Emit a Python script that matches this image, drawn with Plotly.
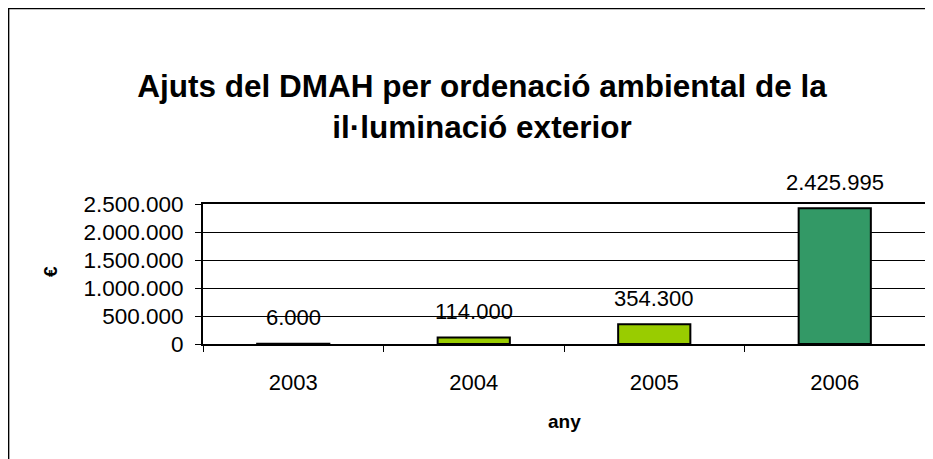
import plotly.graph_objects as go

years = ["2003", "2004", "2005", "2006"]
values = [6000, 114000, 354300, 2425995]
labels = ["6.000", "114.000", "354.300", "2.425.995"]
colors = ["#99CC00", "#99CC00", "#99CC00", "#339966"]
title_text = "Ajuts del DMAH per ordenació ambiental de la<br>il·luminació exterior"
x_title = "any"
y_title = "€"

W, H = 933, 459
OFF = 8  # page body margin offset (page px = figure px + OFF)
# plot area target in page pixels
PL, PR, PT, PB = 203, 925, 204, 344
ml, mt = PL - OFF, PT - OFF
mr, mb = W - (PR - OFF), H - (PB - OFF)
pw, ph = W - ml - mr, H - mt - mb

FONT = "Liberation Sans, Arial, sans-serif"


def px2x(p):  # page px -> paper x
    return (p - OFF - ml) / pw


def px2y(p):  # page px -> paper y
    return 1 - (p - OFF - mt) / ph


fig = go.Figure()
fig.add_trace(go.Bar(
    x=years, y=values, width=0.4,
    marker=dict(color=colors, line=dict(color="black", width=2)),
    hoverinfo="skip",
))

for i, (v, lab) in enumerate(zip(values, labels)):
    fig.add_annotation(x=i, y=v, xref="x", yref="y", text=lab, showarrow=False,
                       yanchor="middle", yshift=26,
                       font=dict(family=FONT, size=22, color="black"))

# axis titles
fig.add_annotation(x=0.5, y=px2y(421), xref="paper", yref="paper", text=x_title,
                   showarrow=False, xanchor="center", yanchor="middle",
                   font=dict(family=FONT, size=19, color="black", weight="bold"))
fig.add_annotation(x=px2x(50), y=px2y(272), xref="paper", yref="paper", text=y_title,
                   showarrow=False, textangle=-90, xanchor="center", yanchor="middle",
                   font=dict(family=FONT, size=19, color="black", weight="bold"))

# outer chart frame (partially cropped)
fig.add_shape(type="path", xref="paper", yref="paper",
              path=f"M {px2x(8.6)},{px2y(480)} L {px2x(8.6)},{px2y(8.6)} L {px2x(980)},{px2y(8.6)}",
              line=dict(color="black", width=1.5))

fig.update_layout(
    width=W, height=H,
    margin=dict(l=ml, r=mr, t=mt, b=mb, autoexpand=False),
    paper_bgcolor="white", plot_bgcolor="white",
    separators=",.",
    showlegend=False,
    title=dict(text=title_text, x=(482 - OFF) / W, xanchor="center", xref="container",
               y=1 - 89 / H, yanchor="top", yref="container",
               font=dict(family=FONT, size=31.5, color="black", weight="bold")),
    xaxis=dict(type="category", range=[-0.5, len(years) - 0.5],
               tickson="boundaries", ticks="outside", ticklen=6,
               tickcolor="black", tickwidth=1, showline=True, linecolor="black",
               linewidth=2, mirror=True, showgrid=False,
               ticklabelstandoff=18,
               tickfont=dict(family=FONT, size=22, color="black"),
               automargin=False),
    yaxis=dict(range=[0, 2500000], dtick=500000, tickformat=",d", ticks="outside",
               ticklen=6, tickcolor="black", showline=True, linecolor="black",
               linewidth=2, mirror=True, showgrid=True, gridcolor="black", gridwidth=1,
               zeroline=False, ticklabelstandoff=7,
               tickfont=dict(family=FONT, size=22.5, color="black"),
               automargin=False),
)

fig.write_html("out.html")
